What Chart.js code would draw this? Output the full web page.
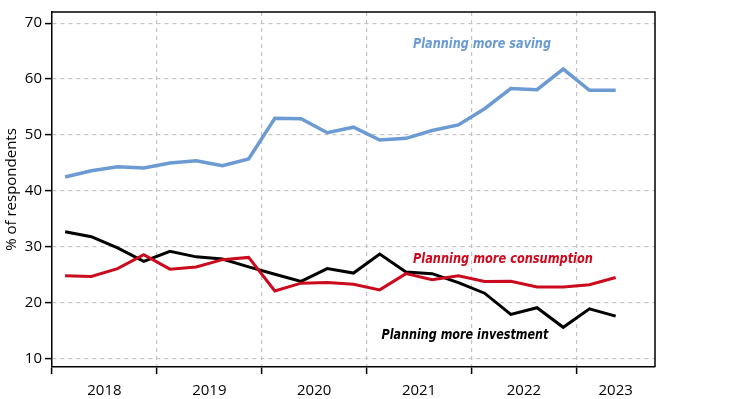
<!DOCTYPE html>
<html>
<head>
<meta charset="utf-8">
<script src="https://cdn.jsdelivr.net/npm/chart.js@4.4.1/dist/chart.umd.min.js"></script>
<style>
  html, body { margin: 0; padding: 0; background: #fff; }
  #wrap { width: 736px; height: 399px; position: relative; }
</style>
</head>
<body>
<div id="wrap"><canvas id="chart"></canvas></div>
<script>
// quarterly survey, 2018Q1 .. 2023Q2
const quarters = ['2018Q1','2018Q2','2018Q3','2018Q4','2019Q1','2019Q2','2019Q3','2019Q4',
  '2020Q1','2020Q2','2020Q3','2020Q4','2021Q1','2021Q2','2021Q3','2021Q4',
  '2022Q1','2022Q2','2022Q3','2022Q4','2023Q1','2023Q2'];
const saving = [42.5, 43.6, 44.3, 44.1, 45.0, 45.4, 44.5, 45.7, 53.0, 52.9, 50.4, 51.4,
  49.1, 49.4, 50.8, 51.8, 54.7, 58.3, 58.1, 61.8, 58.0, 58.0];
const consumption = [24.8, 24.7, 26.1, 28.6, 26.0, 26.4, 27.7, 28.1, 22.1, 23.5, 23.6, 23.3,
  22.3, 25.2, 24.1, 24.8, 23.8, 23.85, 22.8, 22.8, 23.2, 24.5];
const investment = [32.7, 31.8, 29.8, 27.4, 29.2, 28.2, 27.8, 26.4, 25.1, 23.8, 26.1, 25.3,
  28.7, 25.5, 25.2, 23.6, 21.7, 17.9, 19.1, 15.6, 18.9, 17.6];
const yearLabels = ['2018','2019','2020','2021','2022','2023'];
const yTicks = [10, 20, 30, 40, 50, 60, 70];

// x axis runs in quarters: 0 = start of 2018, 23 = end of 2023Q3
const xMax = 23;
function pts(arr) {
  return arr.map((v, i) => ({ x: i + 0.5, y: v }));
}
// year label sits at the middle of the visible part of each year
function yearCenters() {
  return yearLabels.map((y, i) => (i * 4 + Math.min(i * 4 + 4, xMax)) / 2);
}

const notes = [
  { text: 'Planning more saving', x: 16.4, y: 66.3, color: '#6b9bd2', font: 'italic 600 14px', w: 138 },
  { text: 'Planning more consumption', x: 17.2, y: 27.8, color: '#cc0a1e', font: 'italic bold 14px', w: 180 },
  { text: 'Planning more investment', x: 15.75, y: 14.2, color: '#000', font: 'italic bold 14px', w: 167 }
];

const notesPlugin = {
  id: 'notes',
  afterDatasetsDraw(chart) {
    const ctx = chart.ctx, xs = chart.scales.x, ys = chart.scales.y;
    ctx.save();
    ctx.textAlign = 'center';
    ctx.textBaseline = 'middle';
    notes.forEach(n => {
      ctx.font = n.font + ' "Liberation Sans Narrow", "DejaVu Sans Condensed", sans-serif';
      ctx.fillStyle = n.color;
      ctx.fillText(n.text, xs.getPixelForValue(n.x), ys.getPixelForValue(n.y), n.w);
    });
    ctx.restore();
  }
};

const framePlugin = {
  id: 'frame',
  afterDraw(chart) {
    const a = chart.chartArea, ctx = chart.ctx;
    ctx.save();
    ctx.strokeStyle = '#000';
    ctx.lineWidth = 1.5;
    ctx.beginPath();
    ctx.moveTo(a.left, a.top);
    ctx.lineTo(a.right, a.top);
    ctx.lineTo(a.right, a.bottom);
    ctx.stroke();
    ctx.restore();
  }
};

new Chart(document.getElementById('chart'), {
  type: 'line',
  data: {
    datasets: [
      { label: 'Planning more saving', data: pts(saving), borderColor: '#6b9bd2', borderWidth: 3.5 },
      { label: 'Planning more consumption', data: pts(consumption), borderColor: '#cc0a1e', borderWidth: 3 },
      { label: 'Planning more investment', data: pts(investment), borderColor: '#000', borderWidth: 3 }
    ]
  },
  options: {
    responsive: true,
    maintainAspectRatio: false,
    animation: false,
    elements: { point: { radius: 0 }, line: { tension: 0, borderJoinStyle: 'miter' } },
    layout: { padding: { top: 5, right: 81, left: 0, bottom: 0 } },
    plugins: { legend: { display: false }, tooltip: { enabled: false } },
    scales: {
      x: {
        type: 'linear',
        min: 0,
        max: xMax,
        afterBuildTicks(scale) {
          const vals = [];
          for (let v = 0; v <= 20; v += 4) vals.push(v);
          yearCenters().forEach(c => vals.push(c));
          scale.ticks = vals.sort((a, b) => a - b).map(v => ({ value: v }));
        },
        afterFit(scale) { scale.height = 32; },
        ticks: {
          autoSkip: false,
          maxRotation: 0,
          padding: 8,
          color: '#000',
          font: { family: '"Open Sans", sans-serif', size: 15 },
          callback(v) {
            const i = yearCenters().indexOf(v);
            return i >= 0 ? yearLabels[i] : '';
          }
        },
        grid: {
          color: c => (c.tick && c.tick.value % 4 === 0 && c.tick.value > 0) ? '#c4c4c4' : 'rgba(0,0,0,0)',
          tickColor: c => (c.tick && c.tick.value % 4 === 0) ? '#000' : 'rgba(0,0,0,0)',
          lineWidth: 1.2,
          tickWidth: 1.5,
          tickLength: 7,
          tickBorderDash: []
        },
        border: { color: '#000', width: 1.5, dash: [4, 4] }
      },
      y: {
        min: 8.5,
        max: 72,
        afterBuildTicks(scale) {
          scale.ticks = yTicks.map(v => ({ value: v }));
        },
        afterFit(scale) { scale.width = 52; },
        ticks: {
          padding: 3,
          color: '#000',
          font: { family: '"Open Sans", sans-serif', size: 15 }
        },
        grid: {
          color: '#c4c4c4',
          tickColor: '#000',
          lineWidth: 1.2,
          tickWidth: 1.5,
          tickLength: 7,
          tickBorderDash: []
        },
        border: { color: '#000', width: 1.5, dash: [4, 4] },
        title: {
          display: true,
          text: '% of respondents',
          color: '#000',
          padding: { top: 3, bottom: 0 },
          font: { family: '"Open Sans", sans-serif', size: 15 }
        }
      }
    }
  },
  plugins: [notesPlugin, framePlugin]
});
</script>
</body>
</html>
